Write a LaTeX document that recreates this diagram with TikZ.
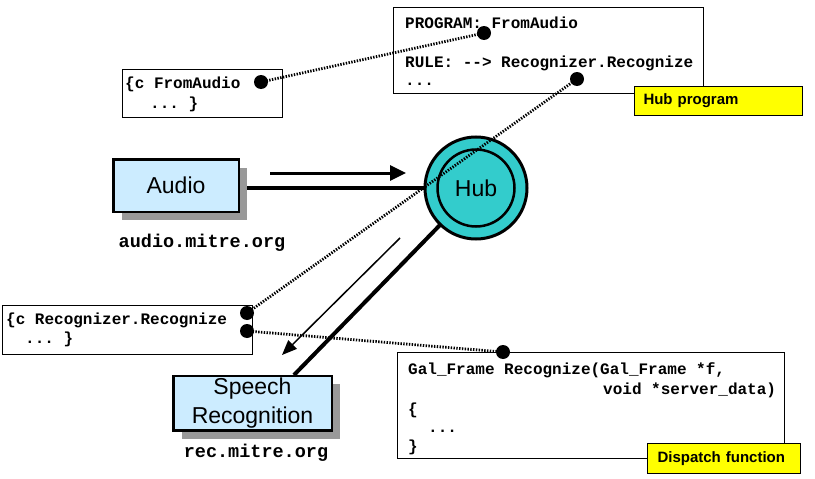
\documentclass[tikz,border=0pt]{standalone}
\usepackage{fontspec}
\setmainfont{Liberation Sans}
\setmonofont{Liberation Mono}
\usetikzlibrary{arrows.meta,shadows}
\definecolor{boxblue}{RGB}{204,236,255}
\definecolor{hubteal}{RGB}{51,204,204}
\definecolor{shadowgray}{RGB}{153,153,153}
\definecolor{labelyellow}{RGB}{255,255,0}
\pgfdeclarelayer{background}
\pgfsetlayers{background,main}
\begin{document}
\begin{tikzpicture}[x=1pt,y=-1pt,
  codebox/.style={draw, line width=1.2pt, fill=white, inner sep=0pt},
  code/.style={font=\ttfamily\bfseries\fontsize{16}{20}\selectfont, inner sep=0pt, anchor=base west},
  hostlabel/.style={font=\ttfamily\bfseries\fontsize{18.5}{22}\selectfont, inner sep=0pt, anchor=base},
  compbox/.style={draw, line width=2.5pt, fill=boxblue, inner sep=0pt, align=center,
    font=\fontsize{23}{29}\selectfont,
    drop shadow={shadow xshift=8.5pt, shadow yshift=-8.5pt, fill=shadowgray, opacity=1}},
  tag/.style={draw, line width=1pt, fill=labelyellow, anchor=west, align=left,
    font=\bfseries\fontsize{15}{18}\selectfont, inner ysep=0pt},
  dotend/.style={circle, fill=black, inner sep=0pt, minimum size=14pt},
  dotline/.style={line width=2.8pt, dash pattern=on 1.4pt off 1.4pt},
  thickline/.style={line width=4pt},
]
\useasboundingbox (0,0) rectangle (815,479);

% component boxes
\node[compbox, minimum width=125.5pt, minimum height=52.5pt] (audio) at (176,185.5) {Audio};
\node[compbox, minimum width=158.5pt, minimum height=54.5pt] (speech) at (252.5,403) {Speech\\Recognition};
\node[hostlabel] (audiohost) at (202,247) {audio.mitre.org};
\node[hostlabel] (rechost) at (256,457) {rec.mitre.org};

% hub
\node[circle, draw, line width=3pt, fill=hubteal, minimum size=102pt, inner sep=0pt] (hub) at (476,188) {};
\node[circle, draw, line width=2.5pt, minimum size=77pt, inner sep=0pt,
  font=\fontsize{23}{28}\selectfont] (hubin) at (476,188) {Hub};

% thick connectors behind
\coordinate (srtop) at (294,375);
\begin{pgfonlayer}{background}
  \draw[thickline] (audio.east |- hub.center) -- (hub.center);
  \draw[thickline] (hub.center) -- (srtop);
\end{pgfonlayer}

% message arrows
\coordinate (msg1s) at (270,173);
\coordinate (msg1e) at (406,173);
\draw[line width=3pt, -{Triangle[length=16pt,width=15pt]}] (msg1s) -- (msg1e);
\coordinate (msg2s) at (400,238);
\coordinate (msg2e) at (282,355);
\draw[line width=1.5pt, -{Triangle[length=15pt,width=12pt]}] (msg2s) -- (msg2e);

% Hub program box
\node[codebox, minimum width=310pt, minimum height=86pt] (prog) at (548.5,50.5) {};
\node[code] (progl1) at (405,28) {PROGRAM: FromAudio};
\node[code] (progl2) at (405,67) {RULE: --> Recognizer.Recognize};
\node[code] (progl3) at (405,85) {...};
\node[tag, text width=150pt, inner xsep=9pt, minimum height=29pt] (progtag) at (634,101) {Hub program};

% FromAudio small box
\node[codebox, minimum width=160pt, minimum height=48pt] (fa) at (202.5,93.5) {};
\node[code] (fal1) at (125,88) {\{c FromAudio};
\node[code] (fal2) at (150,108) {... \}};

% Recognizer box
\node[codebox, minimum width=250pt, minimum height=49pt] (rr) at (127.5,330) {};
\node[code] (rrl1) at (6,324) {\{c Recognizer.Recognize};
\node[code] (rrl2) at (25,343) {... \}};

% Dispatch box
\node[codebox, minimum width=387pt, minimum height=106pt] (disp) at (591,405.5) {};
\node[code] (dl1) at (408,374) {Gal\_Frame Recognize(Gal\_Frame *f,};
\node[code] (dl2) at (603,394) {void *server\_data)};
\node[code] (dl3) at (408,414) {\{};
\node[code] (dl4) at (428,432) {...};
\node[code] (dl5) at (408,451) {\}};
\node[tag, text width=133pt, inner xsep=10pt, minimum height=30pt] (disptag) at (647,458.5) {Dispatch function};

% dots
\node[dotend] (dfa) at (261,82) {};
\node[dotend] (dprog1) at (484,33) {};
\node[dotend] (dprog2) at (577,79) {};
\node[dotend] (drr1) at (247,313) {};
\node[dotend] (drr2) at (247,331) {};
\node[dotend] (ddisp) at (503,352) {};

% dotted links
\draw[dotline] (dfa.center) -- (dprog1.center);
\draw[dotline] (dprog2.center) -- (drr1.center);
\draw[dotline] (drr2.center) -- (ddisp.center);
\end{tikzpicture}
\end{document}
